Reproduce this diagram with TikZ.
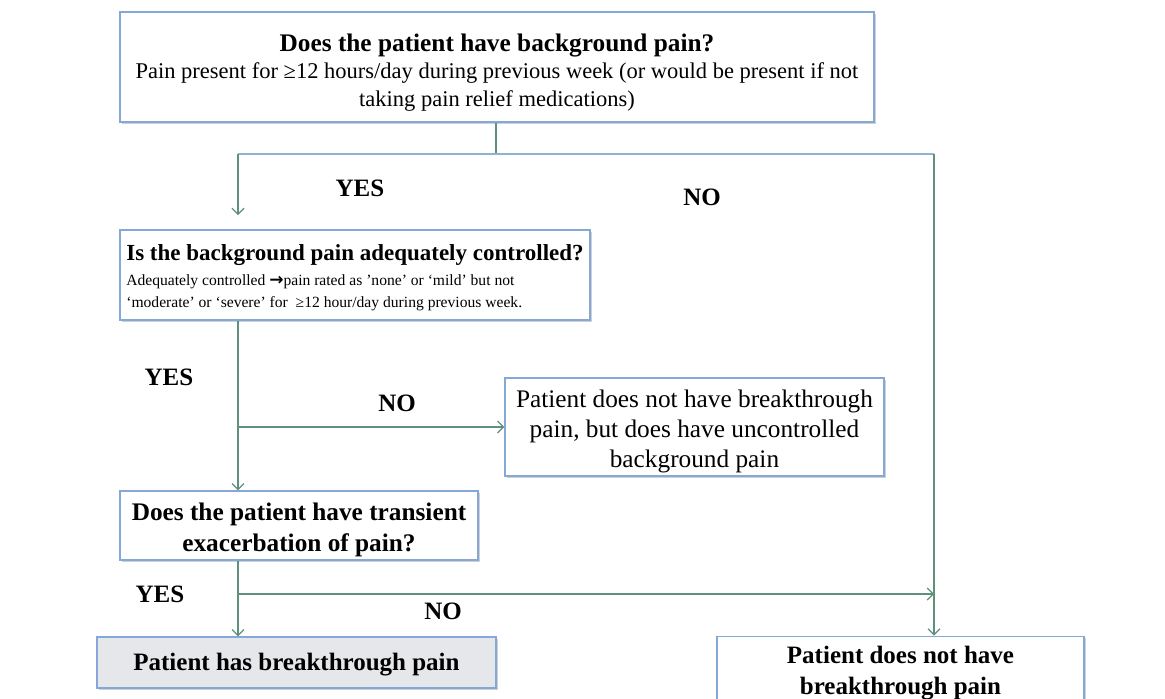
\documentclass[tikz,border=0pt]{standalone}
\usepackage{fontspec}
\setmainfont{Liberation Serif}
\newfontfamily\symfont{DejaVu Sans}
\usetikzlibrary{arrows.meta}
\definecolor{boxline}{HTML}{86A8D8}
\definecolor{conn}{HTML}{5F917A}
\definecolor{hconn}{HTML}{8DB3D6}
\definecolor{boxfill}{HTML}{E6E7EA}
\definecolor{shadowc}{HTML}{D0D0D0}
\tikzset{
  box/.style={draw=boxline, line width=1.2pt, fill=white, inner sep=0pt, align=center, rectangle,
    preaction={draw=none, fill=shadowc, transform canvas={xshift=1.5pt, yshift=-2pt}}},
  conline/.style={draw=conn, line width=1.3pt},
  arr/.style={conline, -{Straight Barb[length=6pt, width=12pt, line width=1.2pt]}},
  lbl/.style={font=\fontsize{25}{28}\selectfont\bfseries, inner sep=0pt},
}
\begin{document}
\begin{tikzpicture}[x=1pt, y=-1pt]
\useasboundingbox (0,0) rectangle (1165,699);
\fill[white] (0,0) rectangle (1165,699);

\node[box, minimum width=754pt, minimum height=110pt, font=\fontsize{22.5}{28}\selectfont] (b1) at (497,67)
  {\rule{0pt}{29.3pt}{\fontsize{25.3}{28}\selectfont\bfseries Does the patient have background pain?}\\[-1pt]
   Pain present for ≥12 hours/day during previous week (or would be present if not\\
   taking pain relief medications)};

\node[box, minimum width=470pt, minimum height=90pt, align=left, font=\fontsize{15.6}{22}\selectfont] (b2) at (355,275)
  {\rule{0pt}{21pt}{\fontsize{23}{24}\selectfont\bfseries Is the background pain adequately controlled?}\\[3pt]
   Adequately controlled {\symfont\bfseries\fontsize{17}{17}\selectfont →}pain rated as ’none’ or ‘mild’ but not\\
   ‘moderate’ or ‘severe’ for \ ≥12 hour/day during previous week.};

\node[box, minimum width=379pt, minimum height=98pt, font=\fontsize{25.3}{30}\selectfont] (b3) at (694.5,427)
  {\rule{0pt}{27.3pt}Patient does not have breakthrough\\pain, but does have uncontrolled\\background pain};

\node[box, minimum width=358pt, minimum height=69pt, font=\fontsize{25.3}{31}\selectfont\bfseries] (b4) at (299,525.5)
  {\rule{0pt}{27.3pt}Does the patient have transient\\exacerbation of pain?};

\node[box, fill=boxfill, minimum width=399pt, minimum height=51pt, font=\fontsize{25}{30}\selectfont\bfseries] (b5) at (296.5,662.5)
  {\rule{0pt}{21pt}Patient has breakthrough pain};

\node[box, minimum width=367pt, minimum height=62pt, font=\fontsize{25}{31}\selectfont\bfseries] (b6) at (900.5,668)
  {\rule{0pt}{27pt}Patient does not have\\breakthrough pain};

% connectors
\coordinate (s1) at (b1.south -| 496,0);
\coordinate (j1) at (496,154);
\coordinate (jl) at (238,154);
\coordinate (jr) at (934,154);
\coordinate (a2) at (238,215);
\draw[conline] (s1) -- (j1);
\draw[draw=hconn, line width=1.3pt] (jl) -- (jr);
\draw[arr] (jl) -- (a2);
\draw[arr] (jr) -- (b6.north -| jr);

\coordinate (s2) at (b2.south -| 238,0);
\coordinate (j2) at (238,427);
\draw[arr] (s2) -- (b4.north -| s2);
\draw[arr] (j2) -- (b3.west |- j2);

\coordinate (s4) at (b4.south -| 238,0);
\coordinate (j4) at (238,594);
\coordinate (e4) at (934,594);
\draw[arr] (s4) -- (b5.north -| s4);
\draw[arr] (j4) -- (e4);

% labels
\node[lbl] (y1) at (360,188) {YES};
\node[lbl] (n1) at (702,197) {NO};
\node[lbl] (y2) at (169,377) {YES};
\node[lbl] (n2) at (397,403) {NO};
\node[lbl] (y3) at (160,594) {YES};
\node[lbl] (n3) at (443,611) {NO};
\end{tikzpicture}
\end{document}
